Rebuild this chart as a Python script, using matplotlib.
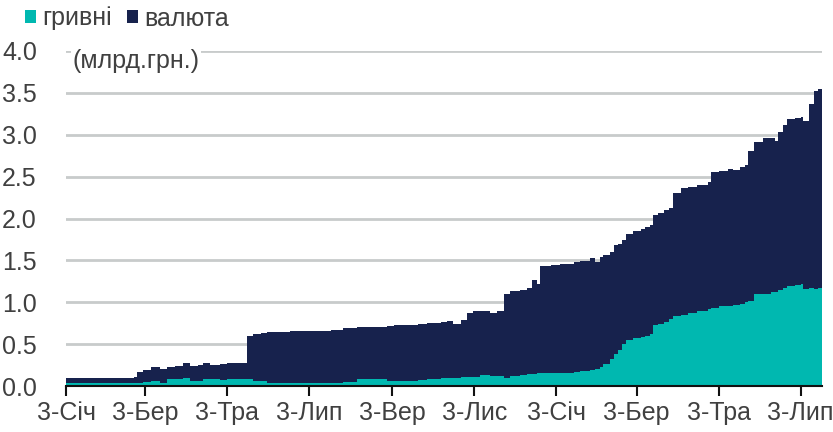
import matplotlib.pyplot as plt
import numpy as np
from matplotlib.patches import Patch

dates = [
    "2019-01-03", "2019-01-28", "2019-02-23", "2019-02-25", "2019-03-01", "2019-03-07",
    "2019-03-14", "2019-03-19", "2019-03-25", "2019-03-31", "2019-04-05", "2019-04-11",
    "2019-04-15", "2019-04-20", "2019-04-28", "2019-05-03", "2019-05-09", "2019-05-13",
    "2019-05-18", "2019-05-22", "2019-05-28", "2019-06-02", "2019-06-11", "2019-06-19",
    "2019-07-02", "2019-07-11", "2019-07-19", "2019-07-28", "2019-08-08", "2019-08-14",
    "2019-08-20", "2019-08-30", "2019-09-04", "2019-09-13", "2019-09-22", "2019-09-29",
    "2019-10-09", "2019-10-14", "2019-10-18", "2019-10-24", "2019-10-29", "2019-11-02",
    "2019-11-07", "2019-11-15", "2019-11-20", "2019-11-25", "2019-11-30", "2019-12-07",
    "2019-12-12", "2019-12-16", "2019-12-20", "2019-12-22", "2019-12-30", "2020-01-06",
    "2020-01-16", "2020-01-21", "2020-01-28", "2020-02-01", "2020-02-05", "2020-02-07",
    "2020-02-12", "2020-02-15", "2020-02-18", "2020-02-21", "2020-02-24", "2020-02-29",
    "2020-03-06", "2020-03-09", "2020-03-13", "2020-03-15", "2020-03-19", "2020-03-23",
    "2020-03-27", "2020-03-30", "2020-04-05", "2020-04-10", "2020-04-17", "2020-04-25",
    "2020-04-27", "2020-05-03", "2020-05-10", "2020-05-14", "2020-05-19", "2020-05-23",
    "2020-05-25", "2020-05-29", "2020-06-05", "2020-06-11", "2020-06-14", "2020-06-16",
    "2020-06-20", "2020-06-23", "2020-06-29", "2020-07-03", "2020-07-05", "2020-07-09",
    "2020-07-13", "2020-07-16", "2020-07-19",
]

# total (гривні + валюта), bn UAH
total = [
    0.10, 0.10, 0.11, 0.17, 0.19, 0.23,
    0.20, 0.23, 0.24, 0.27, 0.24, 0.25,
    0.27, 0.25, 0.26, 0.27, 0.27, 0.28,
    0.60, 0.62, 0.63, 0.65, 0.65, 0.66,
    0.66, 0.66, 0.67, 0.69, 0.70, 0.71,
    0.71, 0.72, 0.73, 0.73, 0.74, 0.75,
    0.77, 0.78, 0.74, 0.79, 0.87, 0.89,
    0.89, 0.87, 0.90, 1.10, 1.14, 1.15,
    1.17, 1.27, 1.22, 1.43, 1.45, 1.46,
    1.48, 1.49, 1.53, 1.48, 1.54, 1.56,
    1.60, 1.68, 1.70, 1.74, 1.82, 1.85,
    1.88, 1.90, 1.92, 2.04, 2.06, 2.10,
    2.13, 2.31, 2.36, 2.38, 2.40, 2.43,
    2.55, 2.57, 2.59, 2.58, 2.62, 2.64,
    2.81, 2.91, 2.96, 2.96, 2.92, 3.03,
    3.12, 3.19, 3.20, 3.21, 3.17, 3.37,
    3.52, 3.55, 3.58,
]

hryvnia = [
    0.035, 0.035, 0.04, 0.04, 0.05, 0.065,
    0.04, 0.08, 0.085, 0.09, 0.06, 0.06,
    0.08, 0.08, 0.07, 0.08, 0.08, 0.08,
    0.08, 0.06, 0.06, 0.04, 0.035, 0.035,
    0.035, 0.04, 0.04, 0.045, 0.08, 0.087,
    0.087, 0.06, 0.06, 0.06, 0.07, 0.08,
    0.10, 0.10, 0.09, 0.11, 0.11, 0.11,
    0.13, 0.12, 0.12, 0.10, 0.12, 0.13,
    0.14, 0.14, 0.15, 0.15, 0.16, 0.16,
    0.17, 0.18, 0.19, 0.20, 0.23, 0.26,
    0.32, 0.38, 0.43, 0.50, 0.55, 0.57,
    0.59, 0.60, 0.62, 0.73, 0.74, 0.76,
    0.80, 0.83, 0.85, 0.87, 0.89, 0.92,
    0.93, 0.95, 0.96, 0.97, 0.98, 1.00,
    1.02, 1.10, 1.10, 1.12, 1.12, 1.15,
    1.17, 1.20, 1.21, 1.22, 1.16, 1.17,
    1.16, 1.17, 1.17,
]

tick_dates = ["2019-01-03", "2019-03-03", "2019-05-03", "2019-07-03", "2019-09-03",
              "2019-11-03", "2020-01-03", "2020-03-03", "2020-05-03", "2020-07-03"]
tick_labels = ["3-Січ", "3-Бер", "3-Тра", "3-Лип", "3-Вер",
               "3-Лис", "3-Січ", "3-Бер", "3-Тра", "3-Лип"]

teal = "#00b8b0"
navy = "#17224d"
txt = "#404040"

plt.rcParams['font.family'] = ['Liberation Sans Narrow', 'Liberation Sans', 'DejaVu Sans']
plt.rcParams['font.size'] = 18

x = np.array(dates, dtype="datetime64[D]")
total = np.array(total)
hryvnia = np.array(hryvnia)

fig = plt.figure(figsize=(8.33, 4.32), dpi=100)
ax = fig.add_axes([66 / 833, 1 - 386 / 432, (822 - 66) / 833, (386 - 51) / 432])

ax.fill_between(x, 0, total, step="post", color=navy, lw=0, zorder=2)
ax.fill_between(x, 0, hryvnia, step="post", color=teal, lw=0, zorder=3)

ax.set_xlim(x[0], x[-1])
ax.set_ylim(0, 4.0)
yt = np.arange(0, 4.01, 0.5)
ax.set_yticks(yt)
ax.set_yticklabels([f"{v:.1f}" for v in yt])
ax.set_xticks(np.array(tick_dates, dtype="datetime64[D]"))
ax.set_xticklabels(tick_labels)

ax.grid(axis="y", color="#c8cbcb", lw=2, zorder=0)
ax.set_axisbelow(True)
for s in ["top", "right", "left"]:
    ax.spines[s].set_visible(False)
ax.spines["bottom"].set_color("#111111")
ax.spines["bottom"].set_linewidth(1.5)
ax.spines["bottom"].set_zorder(5)
ax.tick_params(axis="x", length=7, width=1.5, color="#111111", pad=4, labelcolor=txt)
ax.tick_params(axis="y", length=0, pad=21, labelcolor=txt)

ax.text(72 / 833, 1 - 61 / 432, "(млрд.грн.)", transform=fig.transFigure,
        va="center", ha="left", color=txt,
        bbox=dict(facecolor="white", edgecolor="none", pad=1), zorder=10)

handles = [Patch(facecolor=teal, label="гривні"), Patch(facecolor=navy, label="валюта")]
fig.legend(handles=handles, loc="upper left", bbox_to_anchor=(22 / 833, 1 - 4 / 432),
           ncol=2, frameon=False, handlelength=0.45, handleheight=0.45,
           handletextpad=0.25, columnspacing=0.6, borderaxespad=0, borderpad=0.1,
           labelcolor=txt)

fig.savefig("out.png", dpi=100)
